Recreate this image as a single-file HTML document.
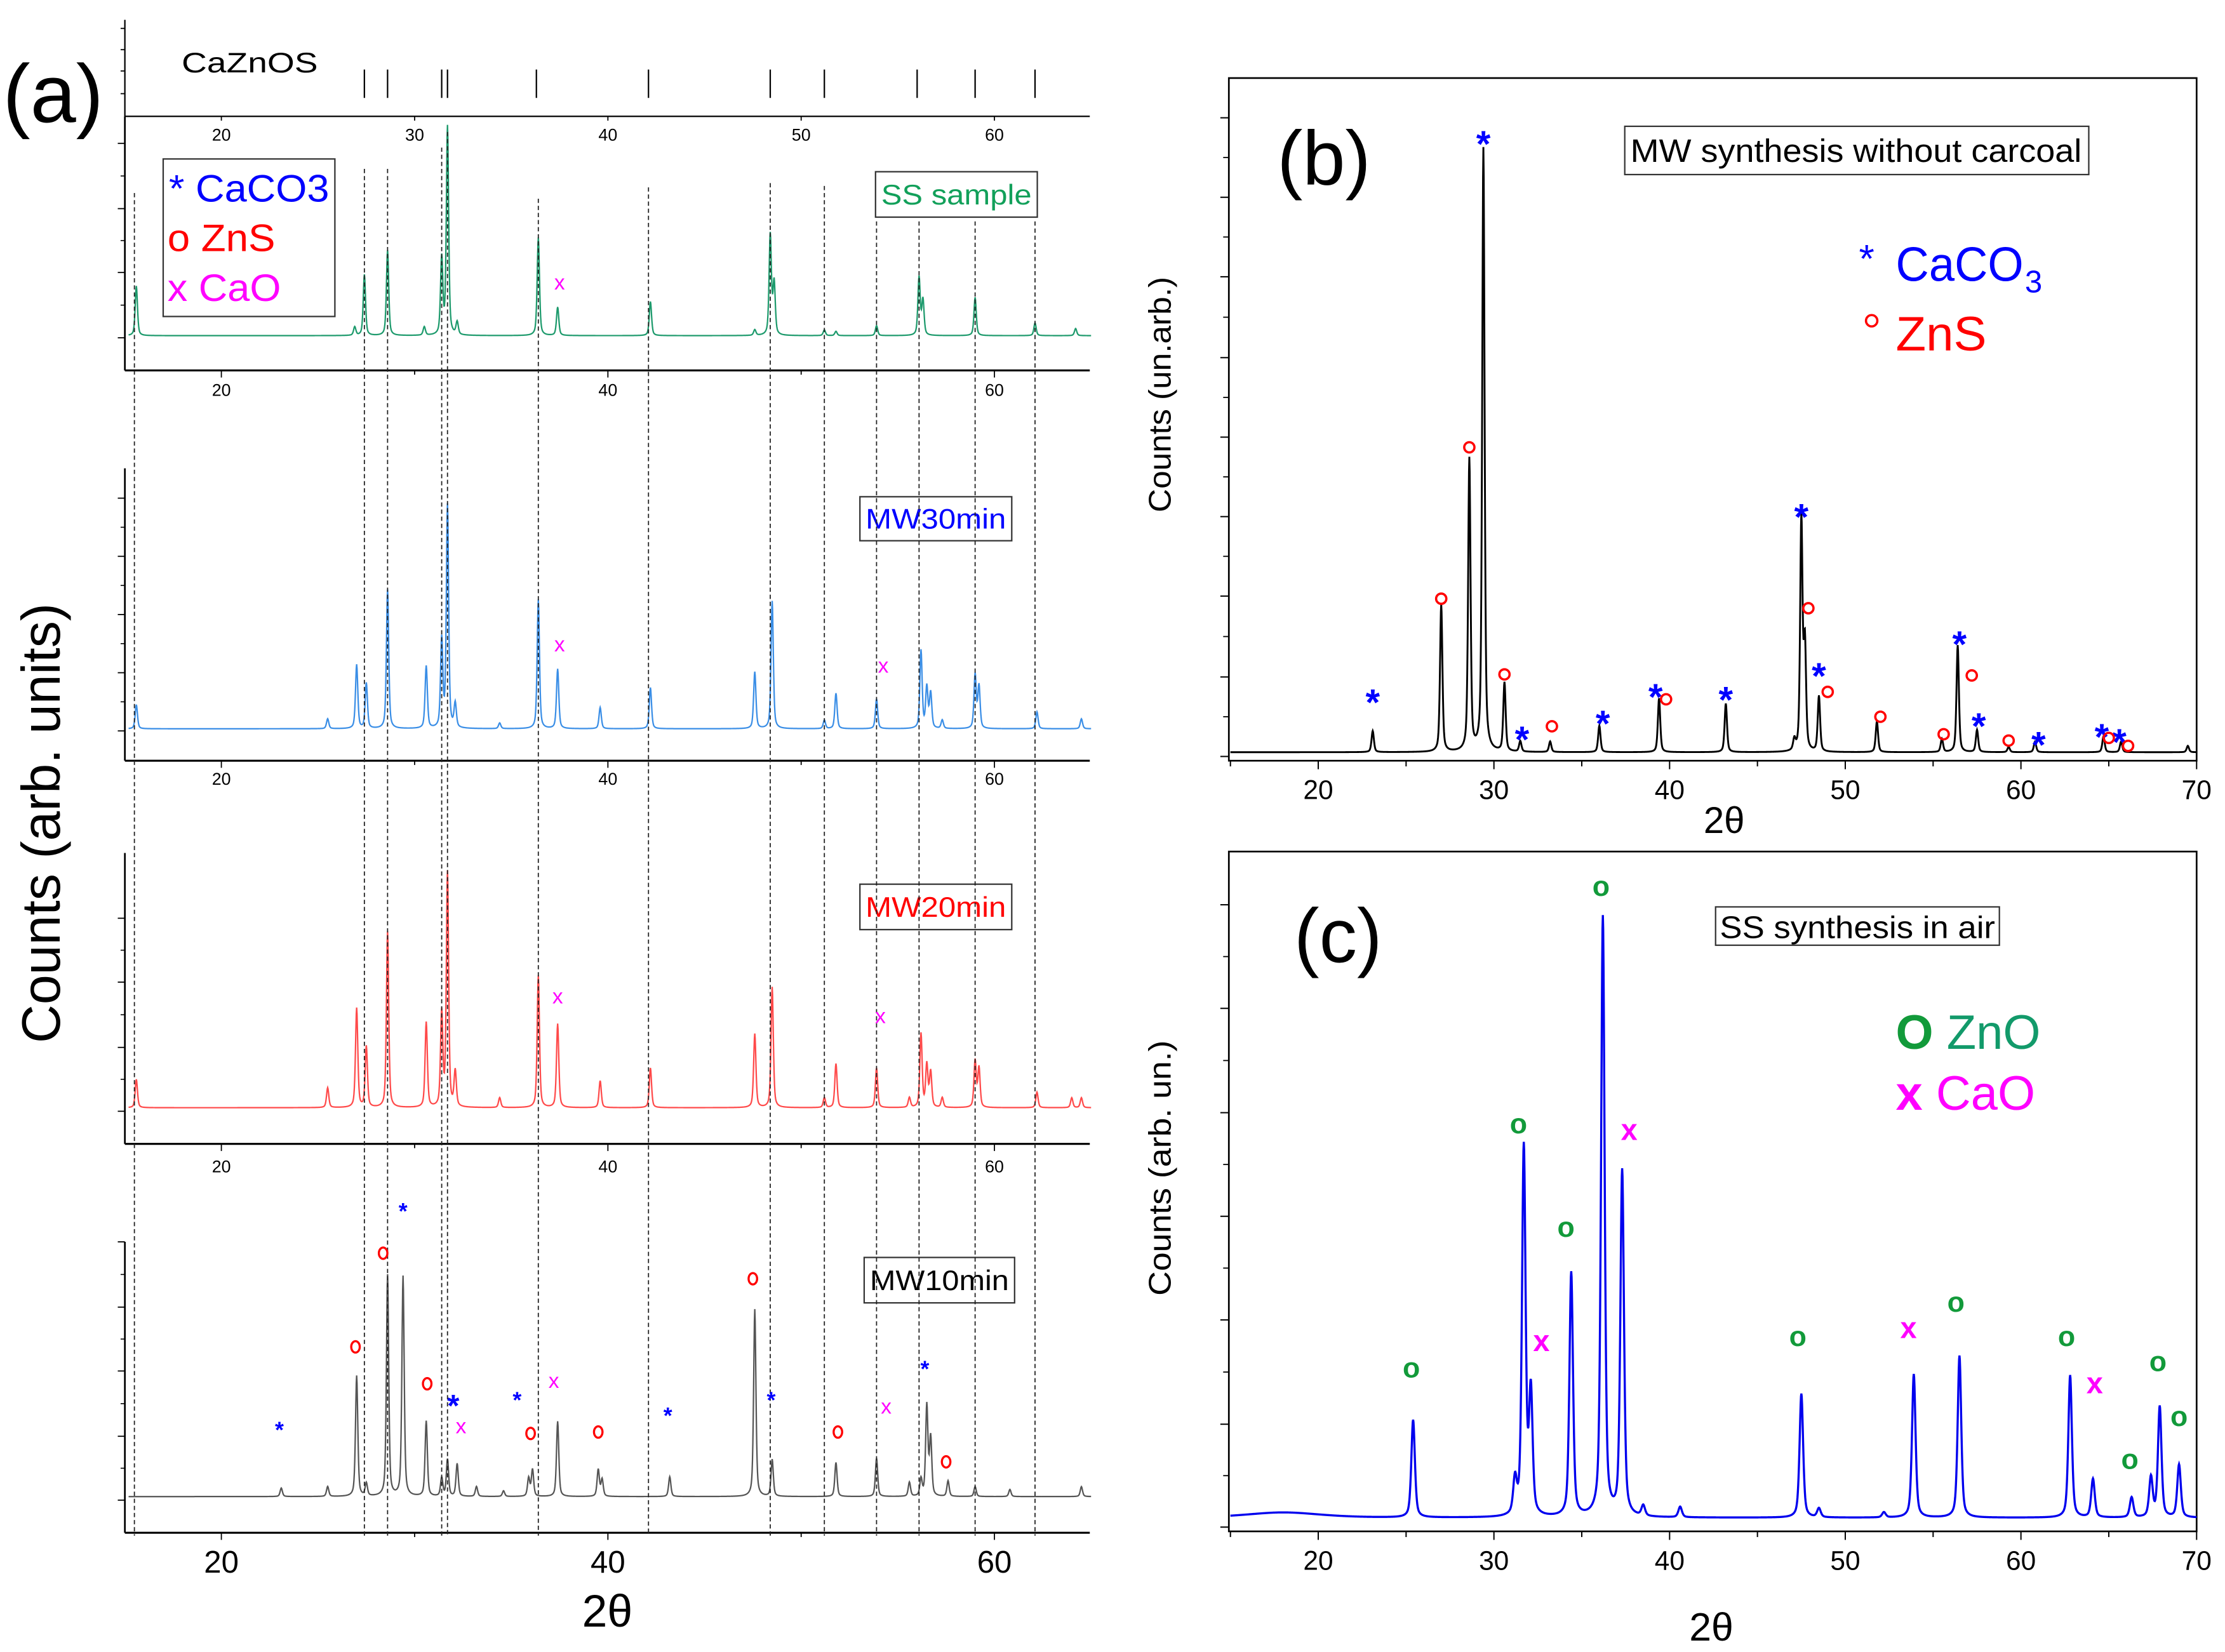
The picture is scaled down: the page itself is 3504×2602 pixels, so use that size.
<!DOCTYPE html>
<html><head><meta charset="utf-8"><style>
html,body{margin:0;padding:0;background:#fff}
svg{display:block}
text{font-family:"Liberation Sans",sans-serif}
</style></head><body>
<svg id="fig" width="3504" height="2602" viewBox="0 0 1568 1164" preserveAspectRatio="none" xmlns="http://www.w3.org/2000/svg">
<rect x="0" y="0" width="1568" height="1164" fill="#fff"/>
<g id="ga"></g>
<g id="gb"></g>
<g id="gc"></g>
</svg>
<script>
// ---------- data ----------
const ticksA=[20,30,40,50,60];
const cazPos=[27.4,28.6,31.4,31.7,36.3,42.1,48.4,51.2,56.0,59.0,62.1];
const dashPos=[15.5,27.4,28.6,31.4,31.7,36.4,42.1,48.4,51.2,53.9,56.1,59.0,62.1];
const dashTop=[136,119,119,104,93,140,132,129,131,156,156,156,156];

const ssPos=[15.6,26.9,27.4,28.6,30.5,31.4,31.7,32.2,36.4,37.4,42.2,47.6,48.4,48.6,51.2,51.8,53.9,56.1,56.3,59.0,62.1,64.2];
const ssHt=[35,6,43,60,6,54,147,9,69,20,24,4,71,37,4,3,7,41,25,27,9,5];
const mw30Pos=[15.6,25.5,27.0,27.5,28.6,30.6,31.4,31.7,32.1,34.4,36.4,37.4,39.6,42.2,47.6,48.5,51.2,51.8,53.9,56.2,56.5,56.7,57.3,59.0,59.2,62.2,64.5];
const mw30Ht=[17,7,45,32,98,44,62,157,17,4,91,42,15,29,40,90,6,25,21,55,29,25,6,38,30,12,7];
const mw20Pos=[15.6,25.5,27.0,27.5,28.6,30.6,31.4,31.7,32.1,34.4,36.4,37.4,39.6,42.2,47.6,48.5,51.2,51.8,53.9,55.6,56.2,56.5,56.7,57.3,59.0,59.2,62.2,64.0,64.5];
const mw20Ht=[20,14,70,43,124,60,66,165,25,7,93,59,19,28,52,85,7,31,28,7,52,30,25,7,33,28,11,7,7];
const mw10Pos=[23.1,25.5,27.0,27.5,28.6,29.4,30.6,31.4,31.7,32.2,33.2,34.6,35.9,36.1,37.4,39.5,39.7,43.2,47.6,48.5,51.8,53.9,55.6,56.2,56.5,56.7,57.6,59.0,60.8,64.5];
const mw10Ht=[6,7,85,9,156,155,53,13,26,23,7,4,13,19,53,19,12,14,132,26,24,27,10,12,64,41,11,7,5,7];

const bPos=[23.1,27.0,28.6,29.4,30.6,31.5,33.2,36.0,39.4,43.2,47.1,47.5,47.7,48.5,51.8,55.5,56.4,57.5,59.3,60.8,64.7,65.7,69.5];
const bHt=[40,278,552,1140,130,20,20,50,102,92,20,437,200,105,58,25,202,42,10,20,30,20,12];
const bStarT=[23.1,29.4,31.6,36.2,39.2,43.2,47.5,48.5,56.5,57.6,61.0,64.6,65.6];
const bStarV=[110,1165,40,70,120,115,460,160,220,65,30,45,35];
const bCircT=[27.0,28.6,30.6,33.3,39.8,47.9,49.0,52.0,55.6,57.2,59.3,65.0,66.1];
const bCircV=[298,584,155,57,108,280,122,75,42,153,30,35,20];

const cPos=[18,25.4,31.2,31.7,32.1,34.4,36.2,37.3,38.5,40.6,47.5,48.5,52.2,53.9,56.5,62.8,64.1,66.3,67.4,67.9,69.0];
const cHt=[10,185,65,700,232,463,1137,655,20,20,235,17,10,272,307,270,73,38,75,210,100];
const cZnOT=[25.3,31.4,34.1,36.1,47.3,56.3,62.6,66.2,67.8,69.0];
const cZnOV=[300,763,567,1213,360,425,360,127,312,208];
const cCaOT=[32.7,37.7,53.6,64.2];
const cCaOV=[350,750,375,270];

const mw10StarT=[23.0,29.4,32.0,35.3,43.1,48.45,56.4];
const mw10StarV=[50,204,65,71,60,71,93];
const mw10CircT=[26.94,28.37,30.65,36.0,39.5,47.5,51.9,57.5];
const mw10CircV=[106,172,80,45,46,154,46,25];
const mw10XT=[32.4,37.2,54.4];
const mw10XV=[49,81,63];

// ---------- helpers ----------
const NS="http://www.w3.org/2000/svg";
function mk(parent,tag,attrs,txt){const e=document.createElementNS(NS,tag);for(const k in attrs)e.setAttribute(k,attrs[k]);if(txt!==undefined)e.textContent=txt;parent.appendChild(e);return e;}
function spec(pos,ht,w,base,t){let s=base;for(let i=0;i<pos.length;i++){const ww=(pos[i]===18)?2.5:w;const d=(t-pos[i])/ww;s+=ht[i]*(0.5/(1+d*d)+0.5*Math.exp(-0.693*d*d));}return s;}
function pathFor(pos,ht,w,base,t0,t1,xf,yf){let d="";for(let t=t0;t<=t1+1e-9;t+=0.02){d+=(d?"L":"M")+xf(t).toFixed(2)+","+yf(spec(pos,ht,w,base,t)).toFixed(2);}return d;}

// ---------- panel (a) ----------
const ga=document.getElementById('ga');
const xa=t=>156+(t-20)*13.62;
const AL=88, AR=768;
let e;
e=mk(ga,'line',{x1:AL,y1:14,x2:AL,y2:82,stroke:'#000','stroke-width':1});

e=mk(ga,'line',{x1:AL,y1:82,x2:AR,y2:82,stroke:'#000','stroke-width':1});

[20,35,50,66].forEach(y=>{mk(ga,'line',{x1:AL-3,y1:y,x2:AL,y2:y,stroke:'#000','stroke-width':0.8});});
e=mk(ga,'text',{x:128,y:51,'font-size':20,fill:'#000',textLength:96,lengthAdjust:'spacingAndGlyphs'},'CaZnOS');

cazPos.forEach(t=>{const l=mk(ga,'line',{x1:xa(t),y1:49,x2:xa(t),y2:69,stroke:'#000','stroke-width':1});
});
ticksA.forEach(t=>{mk(ga,'line',{x1:xa(t),y1:82,x2:xa(t),y2:85,stroke:'#000','stroke-width':0.8});
const tx=mk(ga,'text',{x:xa(t),y:99,'font-size':12,'text-anchor':'middle'},String(t));
});
e=mk(ga,'text',{x:2,y:86,'font-size':58,fill:'#000'},'(a)');


const subs=[
 {name:'ss',top:82,bot:261,base:237,pos:ssPos,ht:ssHt,col:'#1d9a6c',lab:'SS sample',labCol:'#12a05a',box:[617,121,114,32],tickY:279,major:[101,147,192,238],big:false},
 {name:'mw30',top:330,bot:536,base:514,pos:mw30Pos,ht:mw30Ht,col:'#3a8ee6',lab:'MW30min',labCol:'#0000ff',box:[606,350,107,31],tickY:553,major:[351,392,433,474,515],big:false},
 {name:'mw20',top:601,bot:806,base:781,pos:mw20Pos,ht:mw20Ht,col:'#ff4a4a',lab:'MW20min',labCol:'#ff0000',box:[606,623,107,32],tickY:826,major:[647,692,738,783],big:false},
 {name:'mw10',top:875,bot:1080,base:1055,pos:mw10Pos,ht:mw10Ht,col:'#555',lab:'MW10min',labCol:'#000',box:[609,886,106,32],tickY:1108,major:[875,921,966,1012,1057],big:true}
];
subs.forEach(s=>{
 const g=mk(ga,'g',{});
 
 let l=mk(g,'line',{x1:AL,y1:s.top,x2:AL,y2:s.bot,stroke:'#000','stroke-width':1.2});
 
 l=mk(g,'line',{x1:AL,y1:s.bot,x2:AR,y2:s.bot,stroke:'#000','stroke-width':1.4});
 
 s.major.forEach((y,i)=>{mk(g,'line',{x1:AL-5,y1:y,x2:AL,y2:y,stroke:'#000','stroke-width':0.8});
   if(i<s.major.length-1){const m=(y+s.major[i+1])/2;mk(g,'line',{x1:AL-3,y1:m,x2:AL,y2:m,stroke:'#000','stroke-width':0.7});}});
 [20,30,40,50,60].forEach(t=>{mk(g,'line',{x1:xa(t),y1:s.bot,x2:xa(t),y2:s.bot+(t%20===0?5:3),stroke:'#000','stroke-width':0.8});});
 [20,40,60].forEach(t=>{const tx=mk(g,'text',{x:xa(t),y:s.tickY,'font-size':s.big?22:12,'text-anchor':'middle'},String(t));
   });
 const p=mk(g,'path',{d:pathFor(s.pos,s.ht,0.07,0.5,15.2,65,xa,v=>s.base-v),fill:'none',stroke:s.col,'stroke-width':1});
 
 const b=mk(g,'rect',{x:s.box[0],y:s.box[1],width:s.box[2],height:s.box[3],fill:'#fff',stroke:'#333','stroke-width':1});
 
 const t=mk(g,'text',{x:s.box[0]+4,y:s.box[1]+s.box[3]/2+7,'font-size':20,fill:s.labCol,textLength:s.box[2]-8,lengthAdjust:'spacingAndGlyphs'},s.lab);
 
});
dashPos.forEach((t,i)=>{const l=mk(ga,'line',{x1:xa(t),y1:dashTop[i],x2:xa(t),y2:1082,stroke:'#222','stroke-width':0.8,'stroke-dasharray':'3,2'});
 });
[[37.5,244,44],[37.5,514,59],[54.25,514,44],[37.4,781,78],[54.1,781,64]].forEach(m=>{
 const tx=mk(ga,'text',{x:xa(m[0]),y:m[1]-m[2]+4,'font-size':15,fill:'#ff00ff','text-anchor':'middle'},'x');
 });
mw10StarT.forEach((t,i)=>{const tx=mk(ga,'text',{x:xa(t),y:1055-mw10StarV[i]+8,'font-size':i===2?22:16,fill:'#0000ff','text-anchor':'middle','font-weight':'bold'},'*');
 });
mw10CircT.forEach((t,i)=>{const c=mk(ga,'ellipse',{cx:xa(t),cy:1055-mw10CircV[i],rx:3,ry:4,fill:'none',stroke:'#ff0000','stroke-width':1.5});
 });
mw10XT.forEach((t,i)=>{const tx=mk(ga,'text',{x:xa(t),y:1055-mw10XV[i]+4,'font-size':15,fill:'#ff00ff','text-anchor':'middle'},'x');
 });
e=mk(ga,'rect',{x:115,y:112,width:121,height:111,fill:'#fff',stroke:'#333','stroke-width':1});

e=mk(ga,'text',{x:119,y:142,'font-size':27,fill:'#0000ff',textLength:113,lengthAdjust:'spacingAndGlyphs'},'* CaCO3');

e=mk(ga,'text',{x:118,y:177,'font-size':27,fill:'#ff0000',textLength:76,lengthAdjust:'spacingAndGlyphs'},'o ZnS');

e=mk(ga,'text',{x:118,y:212,'font-size':27,fill:'#ff00ff',textLength:80,lengthAdjust:'spacingAndGlyphs'},'x CaO');

e=mk(ga,'text',{x:0,y:0,'font-size':38,'text-anchor':'middle',transform:'translate(42,580) rotate(-90)',textLength:310,lengthAdjust:'spacingAndGlyphs'},'Counts (arb. units)');

e=mk(ga,'text',{x:428,y:1146,'font-size':32,'text-anchor':'middle','font-family':'Liberation Serif, serif'},'2θ');


// ---------- panels (b) and (c) ----------
const xb=t=>929+(t-20)*12.38;
function frame(g,pre,top,bot,majorYs){
 let r=mk(g,'rect',{x:866,y:top,width:682,height:bot-top,fill:'none',stroke:'#000','stroke-width':1.2});
 
 majorYs.forEach((y,i)=>{mk(g,'line',{x1:860,y1:y,x2:866,y2:y,stroke:'#000','stroke-width':0.9});
  if(i<majorYs.length-1){const m=(y+majorYs[i+1])/2;mk(g,'line',{x1:862,y1:m,x2:866,y2:m,stroke:'#000','stroke-width':0.8});}});
 for(let t=15;t<=70;t+=5){mk(g,'line',{x1:xb(t),y1:bot,x2:xb(t),y2:bot+(t%10===0?6:4),stroke:'#000','stroke-width':0.9});}
 for(let t=20;t<=70;t+=10){const tx=mk(g,'text',{x:xb(t),y:bot+27,'font-size':19,'text-anchor':'middle'},String(t));
  }
}
const gb=document.getElementById('gb');
const yb=v=>533-v*0.373;
frame(gb,'panel-b',55,536,[83,139,195,252,308,364,420,477,533]);
e=mk(gb,'path',{d:pathFor(bPos,bHt,0.08,8,15,70,xb,yb),fill:'none',stroke:'#000','stroke-width':1.3});

bStarT.forEach((t,i)=>{const tx=mk(gb,'text',{x:xb(t),y:yb(bStarV[i])+12,'font-size':26,fill:'#0000ff','text-anchor':'middle','font-weight':'bold'},'*');
 });
bCircT.forEach((t,i)=>{const c=mk(gb,'circle',{cx:xb(t),cy:yb(bCircV[i]),r:3.6,fill:'none',stroke:'#ff0000','stroke-width':1.6});
 });
e=mk(gb,'text',{x:900,y:130,'font-size':54,textLength:66,lengthAdjust:'spacingAndGlyphs'},'(b)');

e=mk(gb,'rect',{x:1145,y:89,width:327,height:34,fill:'#fff',stroke:'#333','stroke-width':1});

e=mk(gb,'text',{x:1149,y:114,'font-size':23,textLength:318,lengthAdjust:'spacingAndGlyphs'},'MW synthesis without carcoal');

e=mk(gb,'text',{x:1310,y:192,'font-size':28,fill:'#0000ff'},'*');
e=mk(gb,'text',{x:1336,y:198,'font-size':34,fill:'#0000ff',textLength:90,lengthAdjust:'spacingAndGlyphs'},'CaCO');

mk(gb,'text',{x:1427,y:206,'font-size':22,fill:'#0000ff'},'3');
e=mk(gb,'circle',{cx:1319,cy:226,r:4,fill:'none',stroke:'#ff0000','stroke-width':1.6});
e=mk(gb,'text',{x:1336,y:247,'font-size':34,fill:'#ff0000',textLength:64,lengthAdjust:'spacingAndGlyphs'},'ZnS');

e=mk(gb,'text',{x:0,y:0,'font-size':22,'text-anchor':'middle',transform:'translate(825,278) rotate(-90)',textLength:166,lengthAdjust:'spacingAndGlyphs'},'Counts (un.arb.)');

e=mk(gb,'text',{x:1215,y:587,'font-size':26,'text-anchor':'middle','font-family':'Liberation Serif, serif'},'2θ');


const gc=document.getElementById('gc');
const yc=v=>1076.1-v*0.3717;
frame(gc,'panel-c',600,1079,[637.5,710.5,784,857,930,1003.5,1076]);
e=mk(gc,'path',{d:pathFor(cPos,cHt,0.12,18,15,70,xb,yc),fill:'none',stroke:'#0000ee','stroke-width':1.5});

cZnOT.forEach((t,i)=>{const tx=mk(gc,'text',{x:xb(t),y:yc(cZnOV[i])+6,'font-size':20,fill:'#129a3a','text-anchor':'middle','font-weight':'bold'},'o');
 });
cCaOT.forEach((t,i)=>{const tx=mk(gc,'text',{x:xb(t),y:yc(cCaOV[i])+6,'font-size':21,fill:'#ff00ff','text-anchor':'middle','font-weight':'bold'},'x');
 });
e=mk(gc,'text',{x:912,y:678,'font-size':54,textLength:62,lengthAdjust:'spacingAndGlyphs'},'(c)');

e=mk(gc,'rect',{x:1209,y:639,width:200,height:27,fill:'#fff',stroke:'#333','stroke-width':1});

e=mk(gc,'text',{x:1212,y:661,'font-size':22,textLength:194,lengthAdjust:'spacingAndGlyphs'},'SS synthesis in air');

e=mk(gc,'text',{x:1336,y:739,'font-size':34,fill:'#129a6a'},'');
e.innerHTML='<tspan font-weight="bold" fill="#129a3a">O</tspan> ZnO';

e=mk(gc,'text',{x:1336,y:782,'font-size':34,fill:'#ff00ff'},'');
e.innerHTML='<tspan font-weight="bold">x</tspan> CaO';

e=mk(gc,'text',{x:0,y:0,'font-size':22,'text-anchor':'middle',transform:'translate(825,823) rotate(-90)',textLength:180,lengthAdjust:'spacingAndGlyphs'},'Counts (arb. un.)');

e=mk(gc,'text',{x:1206,y:1156,'font-size':28,'text-anchor':'middle','font-family':'Liberation Serif, serif'},'2θ');

</script>
</body></html>
